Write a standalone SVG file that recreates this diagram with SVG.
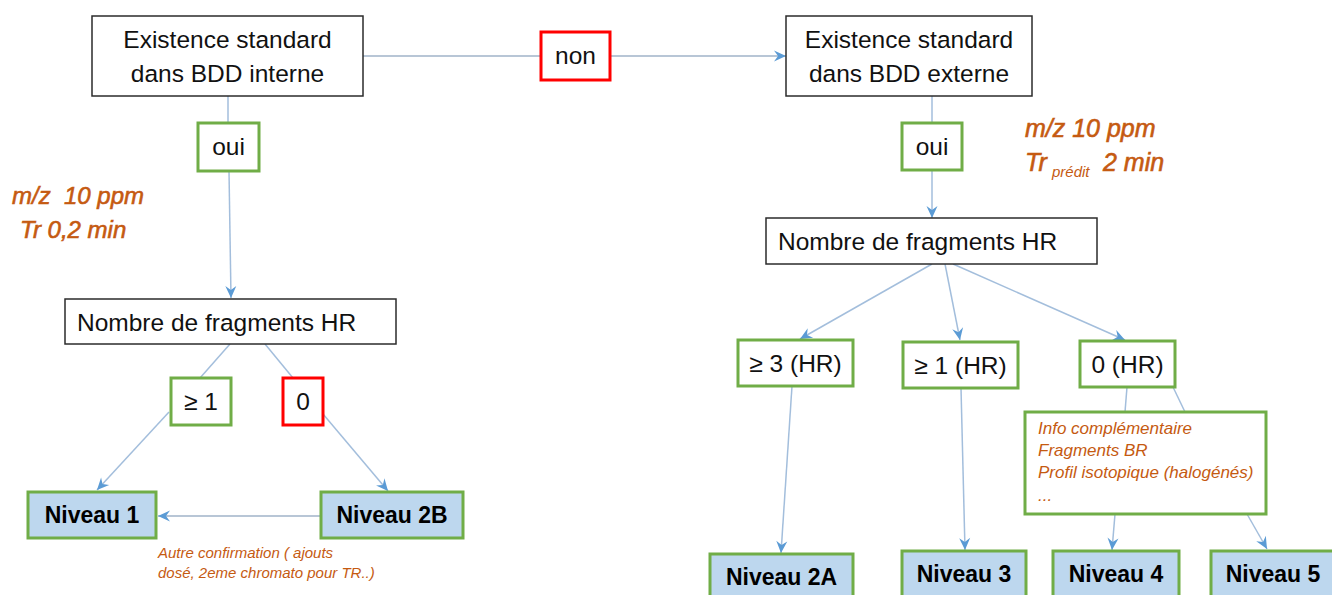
<svg xmlns="http://www.w3.org/2000/svg" width="1332" height="595" viewBox="0 0 1332 595">
<style>
.bg{fill:#ffffff}
.q{fill:#ffffff;stroke:#2b2b2b;stroke-width:1.5}
.g{fill:#ffffff;stroke:#70AD47;stroke-width:3}
.r{fill:#ffffff;stroke:#FF0000;stroke-width:3}
.n{fill:#BDD7EE;stroke:#70AD47;stroke-width:3}
.t{font-family:"Liberation Sans",Arial,sans-serif;font-size:24.5px;fill:#111111}
.c{text-anchor:middle}
.b{font-family:"Liberation Sans",Arial,sans-serif;font-size:23px;font-weight:bold;fill:#000000;text-anchor:middle}
.o{font-family:"Liberation Sans",Arial,sans-serif;font-style:italic;fill:#C55A11;white-space:pre}
.ob{stroke:#C55A11;stroke-width:0.6}
.l{stroke:#A3BEDC;stroke-width:1.5;fill:none}
.h{stroke:#B8C6D6;stroke-width:2;fill:none}
</style>
<defs>
<marker id="ah" markerUnits="userSpaceOnUse" markerWidth="14" markerHeight="14" viewBox="0 0 14 14" refX="13" refY="7" orient="auto">
<path d="M1,1.5 L13,7 L1,12.5 L5,7 Z" fill="#5B9BD5"/>
</marker>
</defs>
<rect class="bg" x="0" y="0" width="1332" height="595"/>

<g id="connectors">
<line class="h" x1="363" y1="56" x2="541" y2="56"/>
<line class="h" x1="610" y1="56" x2="786" y2="56" marker-end="url(#ah)"/>
<line class="l" x1="228" y1="96" x2="228" y2="123"/>
<line class="l" x1="229" y1="171" x2="231" y2="298" marker-end="url(#ah)"/>
<line class="l" x1="230" y1="344" x2="200" y2="378"/>
<line class="l" x1="265" y1="344" x2="293" y2="378"/>
<line class="l" x1="169" y1="412" x2="97" y2="490" marker-end="url(#ah)"/>
<line class="l" x1="323" y1="414" x2="388" y2="491" marker-end="url(#ah)"/>
<line class="h" x1="321" y1="516" x2="158" y2="516" marker-end="url(#ah)"/>
<line class="l" x1="932" y1="96" x2="932" y2="123"/>
<line class="l" x1="932" y1="170" x2="932" y2="218" marker-end="url(#ah)"/>
<line class="l" x1="932" y1="264" x2="800" y2="339" marker-end="url(#ah)"/>
<line class="l" x1="945" y1="264" x2="960" y2="340" marker-end="url(#ah)"/>
<line class="l" x1="953" y1="264" x2="1125" y2="340" marker-end="url(#ah)"/>
<line class="l" x1="792" y1="386" x2="781" y2="553" marker-end="url(#ah)"/>
<line class="l" x1="961" y1="388" x2="965" y2="550" marker-end="url(#ah)"/>
<line class="l" x1="1127" y1="387" x2="1125" y2="412"/>
<line class="l" x1="1173" y1="387" x2="1185" y2="412"/>
<line class="l" x1="1115" y1="514" x2="1112" y2="550" marker-end="url(#ah)"/>
<line class="l" x1="1247" y1="514" x2="1267" y2="549" marker-end="url(#ah)"/>
</g>

<g id="bdd-interne">
<rect class="q" x="92" y="16" width="271" height="80"/>
<text class="t c" x="227.5" y="48">Existence standard</text>
<text class="t c" x="227.5" y="82">dans BDD interne</text>
</g>
<g id="oui-left">
<rect class="g" x="198" y="123" width="61" height="48"/>
<text class="t c" x="228.5" y="155">oui</text>
</g>
<g id="non">
<rect class="r" x="541" y="32" width="69" height="48"/>
<text class="t c" x="575.5" y="64">non</text>
</g>
<g id="nombre-left">
<rect class="q" x="65" y="299" width="331" height="45"/>
<text class="t" x="77" y="331">Nombre de fragments HR</text>
</g>
<g id="ge1-left">
<rect class="g" x="171" y="378" width="60" height="47"/>
<text class="t c" x="201" y="410">≥ 1</text>
</g>
<g id="zero-left">
<rect class="r" x="283" y="378" width="40" height="47"/>
<text class="t c" x="303" y="410">0</text>
</g>
<g id="niveau1">
<rect class="n" x="28" y="492" width="128" height="46"/>
<text class="b" x="92" y="523">Niveau 1</text>
</g>
<g id="niveau2b">
<rect class="n" x="321" y="492" width="142" height="46"/>
<text class="b" x="392" y="523">Niveau 2B</text>
</g>
<g id="note-confirmation">
<text class="o" font-size="15" x="158" y="558">Autre confirmation ( ajouts</text>
<text class="o" font-size="15" x="158" y="578">dosé, 2eme chromato pour TR..)</text>
</g>
<g id="note-left">
<text class="o ob" font-size="24" x="12" y="204" xml:space="preserve">m/z  10 ppm</text>
<text class="o ob" font-size="24" x="20" y="238">Tr 0,2 min</text>
</g>

<g id="bdd-externe">
<rect class="q" x="786" y="16" width="246" height="80"/>
<text class="t c" x="909" y="48">Existence standard</text>
<text class="t c" x="909" y="82">dans BDD externe</text>
</g>
<g id="oui-right">
<rect class="g" x="902" y="123" width="60" height="47"/>
<text class="t c" x="932" y="155">oui</text>
</g>
<g id="note-right">
<text class="o ob" font-size="25" x="1025" y="137">m/z 10 ppm</text>
<text class="o ob" font-size="25" x="1025" y="171">Tr</text>
<text class="o" font-size="15" x="1052" y="177">prédit</text>
<text class="o ob" font-size="25" x="1103" y="171">2 min</text>
</g>
<g id="nombre-right">
<rect class="q" x="766" y="218" width="331" height="46"/>
<text class="t" x="778" y="250">Nombre de fragments HR</text>
</g>
<g id="ge3-hr">
<rect class="g" x="738" y="340" width="115" height="46"/>
<text class="t c" x="795.5" y="372">≥ 3 (HR)</text>
</g>
<g id="ge1-hr">
<rect class="g" x="903" y="342" width="115" height="46"/>
<text class="t c" x="960.5" y="374">≥ 1 (HR)</text>
</g>
<g id="zero-hr">
<rect class="g" x="1080" y="341" width="95" height="46"/>
<text class="t c" x="1127.5" y="373">0 (HR)</text>
</g>
<g id="info">
<rect class="g" x="1025" y="412" width="241" height="102"/>
<text class="o" font-size="17" x="1038" y="434">Info complémentaire</text>
<text class="o" font-size="17" x="1038" y="456">Fragments BR</text>
<text class="o" font-size="17" x="1038" y="478">Profil isotopique (halogénés)</text>
<text class="o" font-size="17" x="1038" y="501">...</text>
</g>
<g id="niveau2a">
<rect class="n" x="710" y="554" width="143" height="50"/>
<text class="b" x="781.5" y="585">Niveau 2A</text>
</g>
<g id="niveau3">
<rect class="n" x="902" y="551" width="124" height="50"/>
<text class="b" x="964" y="582">Niveau 3</text>
</g>
<g id="niveau4">
<rect class="n" x="1053" y="551" width="126" height="50"/>
<text class="b" x="1116" y="582">Niveau 4</text>
</g>
<g id="niveau5">
<rect class="n" x="1211" y="551" width="130" height="50"/>
<text class="b" x="1273" y="582">Niveau 5</text>
</g>
</svg>
